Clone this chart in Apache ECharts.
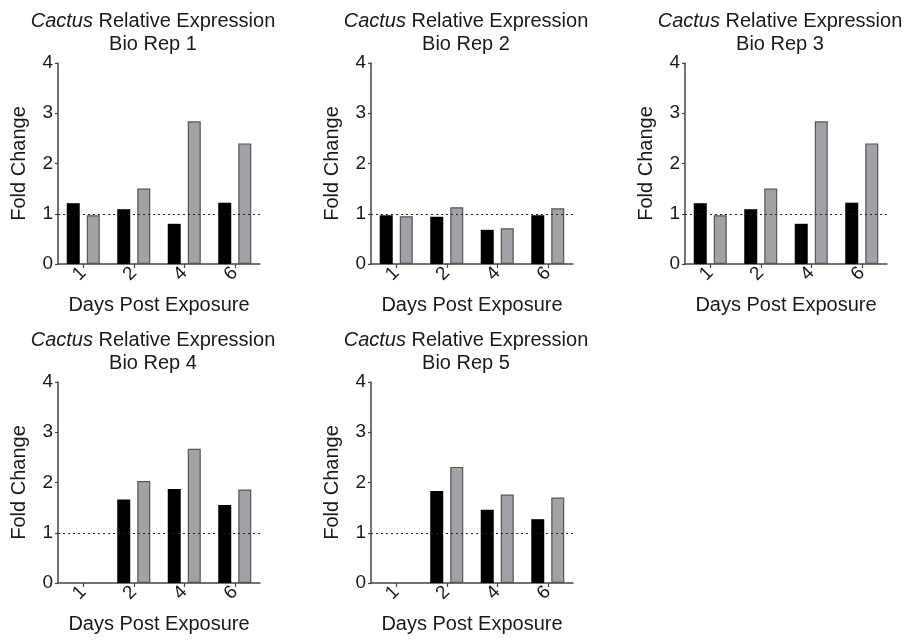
<!DOCTYPE html>
<html>
<head>
<meta charset="utf-8">
<script src="https://cdn.jsdelivr.net/npm/echarts@6/dist/echarts.min.js"></script>
<style>
  html, body { margin: 0; padding: 0; background: #fff; }
  #chart { width: 911px; height: 641px; }
</style>
</head>
<body>
<div id="chart"></div>
<script>
// days on the x axis
const days = ["1", "2", "4", "6"]
const yTicks = [0, 1, 2, 3, 4]
const repNames = ["Bio Rep 1", "Bio Rep 2", "Bio Rep 3", "Bio Rep 4", "Bio Rep 5"]

// fold change, black bars / grey bars per replicate
const rep1Black = [1.21, 1.09, 0.80, 1.22]
const rep1Grey = [0.97, 1.50, 2.84, 2.40]
const rep2Black = [0.97, 0.94, 0.68, 0.97]
const rep2Grey = [0.95, 1.13, 0.71, 1.11]
const rep3Black = [1.21, 1.09, 0.80, 1.22]
const rep3Grey = [0.97, 1.50, 2.84, 2.40]
const rep4Black = [null, 1.66, 1.87, 1.55]
const rep4Grey = [null, 2.03, 2.67, 1.86]
const rep5Black = [null, 1.83, 1.46, 1.27]
const rep5Grey = [null, 2.31, 1.76, 1.70]
const baseline = 1

const blackData = [rep1Black, rep2Black, rep3Black, rep4Black, rep5Black]
const greyData = [rep1Grey, rep2Grey, rep3Grey, rep4Grey, rep5Grey]

// panel boxes (left, top) in px
const panels = [
  { left: 58, top: 63 },
  { left: 371, top: 63 },
  { left: 685, top: 63 },
  { left: 58, top: 382 },
  { left: 371, top: 382 }
]
const plotW = 202
const plotH = 201

const FONT = "'Liberation Sans', Arial, Helvetica, sans-serif"
const axisColor = "#444"
const textColor = "#1a1a1a"

const grid = []
const xAxis = []
const yAxis = []
const series = []
const title = []

panels.forEach((p, i) => {
  grid.push({ left: p.left, top: p.top, width: plotW, height: plotH, containLabel: false })

  title.push({
    text: "{i|Cactus} Relative Expression\n" + repNames[i],
    left: p.left + plotW / 2 - 11,
    top: p.top - 58,
    textAlign: "center",
    textStyle: {
      fontFamily: FONT,
      fontSize: 20,
      fontWeight: "normal",
      color: textColor,
      lineHeight: 23,
      rich: {
        i: { fontFamily: FONT, fontSize: 20, fontStyle: "italic", color: textColor, lineHeight: 23 }
      }
    }
  })

  xAxis.push({
    type: "category",
    gridIndex: i,
    data: days,
    name: "Days Post Exposure",
    nameLocation: "middle",
    nameGap: 31,
    nameTextStyle: { fontFamily: FONT, fontSize: 20, color: textColor },
    axisLine: { show: true, lineStyle: { color: axisColor, width: 1.5 } },
    axisTick: { show: true, alignWithLabel: true, length: 4, lineStyle: { color: axisColor, width: 1.2 } },
    axisLabel: {
      show: true,
      interval: 0,
      rotate: 45,
      margin: 6,
      fontFamily: FONT,
      fontSize: 19,
      color: textColor
    },
    splitLine: { show: false }
  })

  yAxis.push({
    type: "value",
    gridIndex: i,
    min: yTicks[0],
    max: yTicks[yTicks.length - 1],
    interval: 1,
    name: "Fold Change",
    nameLocation: "middle",
    nameGap: 29,
    nameTextStyle: { fontFamily: FONT, fontSize: 20, color: textColor },
    axisLine: { show: true, lineStyle: { color: axisColor, width: 1.5 } },
    axisTick: { show: true, length: 3, lineStyle: { color: axisColor, width: 1.2 } },
    axisLabel: { show: true, margin: 5, fontFamily: FONT, fontSize: 19, color: textColor },
    splitLine: { show: false }
  })

  series.push({
    type: "bar",
    xAxisIndex: i,
    yAxisIndex: i,
    data: blackData[i],
    barWidth: 13,
    barGap: "54%",
    itemStyle: { color: "#000", borderColor: "#000", borderWidth: 0 },
    markLine: {
      silent: true,
      symbol: "none",
      label: { show: false },
      lineStyle: { color: "#222", type: [2, 3], width: 1.2 },
      data: [{ yAxis: baseline }]
    },
    animation: false
  })
  series.push({
    type: "bar",
    xAxisIndex: i,
    yAxisIndex: i,
    data: greyData[i],
    barWidth: 13,
    barGap: "54%",
    itemStyle: { color: "#a2a2a6", borderColor: "#555", borderWidth: 1.2 },
    animation: false
  })
})

const chart = echarts.init(document.getElementById("chart"), null, { renderer: "canvas" })
chart.setOption({
  backgroundColor: "#fff",
  animation: false,
  title: title,
  grid: grid,
  xAxis: xAxis,
  yAxis: yAxis,
  series: series
})
</script>
</body>
</html>
